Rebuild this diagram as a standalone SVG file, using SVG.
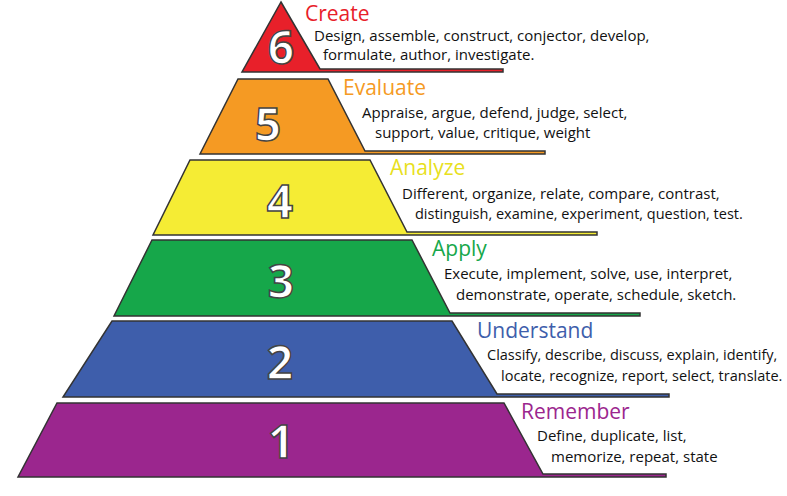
<svg xmlns="http://www.w3.org/2000/svg" width="787" height="496" viewBox="0 0 787 496">
<style>
.L{stroke:#333;stroke-width:1.5}
.n{font-family:"Open Sans",sans-serif;font-weight:bold;font-size:46px;fill:#fff;stroke:#444;stroke-width:1.5;text-anchor:middle}
.t{font-family:"Open Sans",sans-serif;font-size:21px}
.d{font-family:"Open Sans",sans-serif;font-size:15px;fill:#111}
.s{font-size:14.5px}
</style>
<rect width="787" height="496" fill="#fff"/>
<g id="l6"><polygon class="L" fill="#e8202a" points="281,2 320,69 503,69 503,72 242,72"/><text class="n" x="281" y="64">6</text>
<text class="t" fill="#e8202a" x="305" y="21">Create</text>
<text class="d" x="314" y="41">Design, assemble, construct, conjector, develop,</text>
<text class="d" x="323" y="60">formulate, author, investigate.</text></g>
<g id="l5"><polygon class="L" fill="#f59a23" points="238,79 328,79 365,151 545,151 545,154 200,154"/><text class="n" x="268" y="141">5</text>
<text class="t" fill="#f59a23" x="343" y="95">Evaluate</text>
<text class="d" x="362" y="118">Appraise, argue, defend, judge, select,</text>
<text class="d" x="375" y="138">support, value, critique, weight</text></g>
<g id="l4"><polygon class="L" fill="#f5ec34" points="190,160 370,160 407,232 597,232 597,235 153,235"/><text class="n" x="280" y="218">4</text>
<text class="t" fill="#e8e020" x="390" y="175">Analyze</text>
<text class="d" x="402" y="199">Different, organize, relate, compare, contrast,</text>
<text class="d s" x="415" y="219">distinguish, examine, experiment, question, test.</text></g>
<g id="l3"><polygon class="L" fill="#16a74a" points="152,240 412,240 450,313 640,313 640,316 114,316"/><text class="n" x="281" y="298">3</text>
<text class="t" fill="#16a74a" x="432" y="256">Apply</text>
<text class="d" x="444" y="279">Execute, implement, solve, use, interpret,</text>
<text class="d" x="456" y="300">demonstrate, operate, schedule, sketch.</text></g>
<g id="l2"><polygon class="L" fill="#3e5eab" points="112,321 452,321 497,394 669,394 669,397 63,397"/><text class="n" x="280" y="379">2</text>
<text class="t" fill="#3e5eab" x="477" y="338">Understand</text>
<text class="d s" x="487" y="360">Classify, describe, discuss, explain, identify,</text>
<text class="d s" x="501" y="381">locate, recognize, report, select, translate.</text></g>
<g id="l1"><polygon class="L" fill="#9b268e" points="57,403 504,403 543,474 666,474 666,477 18,477"/><text class="n" x="281" y="458">1</text>
<text class="t" fill="#9b268e" x="521" y="419">Remember</text>
<text class="d" x="537" y="441">Define, duplicate, list,</text>
<text class="d" x="551" y="462">memorize, repeat, state</text></g>
<g id="connectors"/>
</svg>
